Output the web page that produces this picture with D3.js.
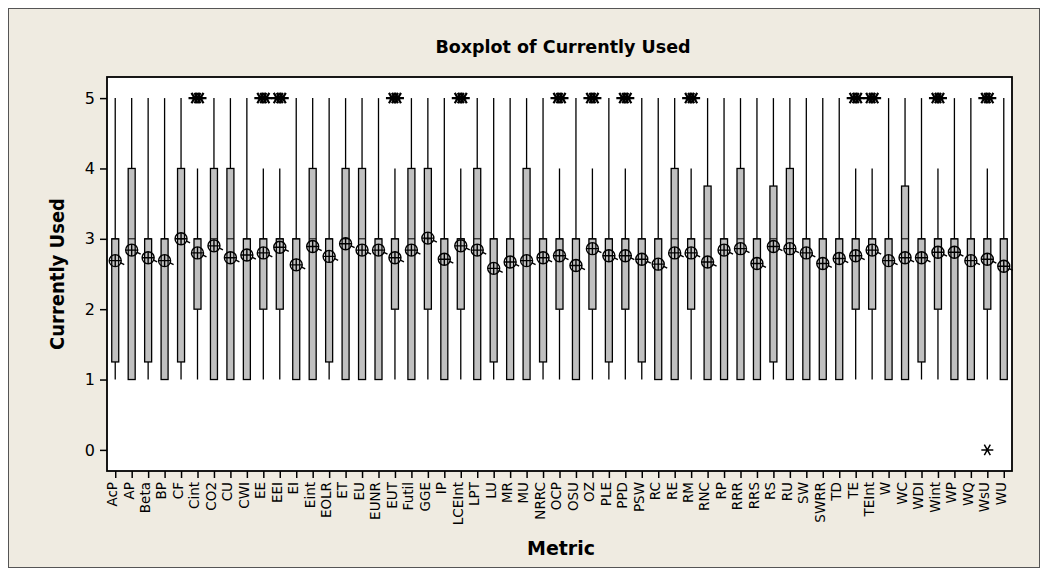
<!DOCTYPE html>
<html>
<head>
<meta charset="utf-8">
<script src="https://cdn.jsdelivr.net/npm/d3@7"></script>
<style>
  body { margin: 0; background: #ffffff; }
</style>
</head>
<body>
<div id="visContainer"></div>
<script>
'use strict';

// categories on the x axis
var categories = ['AcP', 'AP', 'Beta', 'BP', 'CF', 'Cint', 'CO2', 'CU', 'CWI', 'EE', 'EEI', 'EI', 'Eint', 'EOLR',
	'ET', 'EU', 'EUNR', 'EUT', 'Futil', 'GGE', 'IP', 'LCEInt', 'LPT', 'LU', 'MR', 'MU', 'NRRC', 'OCP', 'OSU',
	'OZ', 'PLE', 'PPD', 'PSW', 'RC', 'RE', 'RM', 'RNC', 'RP', 'RRR', 'RRS', 'RS', 'RU', 'SW', 'SWRR', 'TD',
	'TE', 'TEInt', 'W', 'WC', 'WDI', 'Wint', 'WP', 'WQ', 'WsU', 'WU'];

// box statistics, one value per category
var q1 = [1.25, 1, 1.25, 1, 1.25, 2, 1, 1, 1, 2, 2, 1, 1, 1.25,
	1, 1, 1, 2, 1, 2, 1, 2, 1, 1.25, 1, 1, 1.25, 2, 1,
	2, 1.25, 2, 1.25, 1, 1, 2, 1, 1, 1, 1, 1.25, 1, 1, 1, 1,
	2, 2, 1, 1, 1.25, 2, 1, 1, 2, 1];
var median = [3, 3, 3, 3, 3, 3, 3, 3, 3, 3, 3, 3, 3, 3,
	3, 3, 3, 3, 3, 3, 3, 3, 3, 3, 3, 3, 3, 3, 3,
	3, 3, 3, 3, 3, 3, 3, 3, 3, 3, 3, 3, 3, 3, 3, 3,
	3, 3, 3, 3, 3, 3, 3, 3, 3, 3];
var q3 = [3, 4, 3, 3, 4, 3, 4, 4, 3, 3, 3, 3, 4, 3,
	4, 4, 3, 3, 4, 4, 3, 3, 4, 3, 3, 4, 3, 3, 3,
	3, 3, 3, 3, 3, 4, 3, 3.75, 3, 4, 3, 3.75, 4, 3, 3, 3,
	3, 3, 3, 3.75, 3, 3, 3, 3, 3, 3];
var whiskerLow = [1, 1, 1, 1, 1, 1, 1, 1, 1, 1, 1, 1, 1, 1,
	1, 1, 1, 1, 1, 1, 1, 1, 1, 1, 1, 1, 1, 1, 1,
	1, 1, 1, 1, 1, 1, 1, 1, 1, 1, 1, 1, 1, 1, 1, 1,
	1, 1, 1, 1, 1, 1, 1, 1, 1, 1];
var whiskerHigh = [5, 5, 5, 5, 5, 4, 5, 5, 5, 4, 4, 5, 5, 5,
	5, 5, 5, 4, 5, 5, 5, 4, 5, 5, 5, 5, 5, 4, 5,
	4, 5, 4, 5, 5, 5, 4, 5, 5, 5, 5, 5, 5, 5, 5, 5,
	4, 4, 5, 5, 5, 4, 5, 5, 4, 5];
var means = [2.69, 2.84, 2.73, 2.69, 3.0, 2.80, 2.90, 2.73, 2.77, 2.80, 2.88, 2.63, 2.89, 2.75,
	2.93, 2.84, 2.84, 2.73, 2.84, 3.01, 2.71, 2.90, 2.84, 2.58, 2.67, 2.69, 2.73, 2.76, 2.62,
	2.86, 2.76, 2.76, 2.71, 2.64, 2.80, 2.80, 2.67, 2.84, 2.86, 2.65, 2.89, 2.86, 2.80, 2.65, 2.72,
	2.76, 2.84, 2.69, 2.73, 2.73, 2.81, 2.81, 2.69, 2.71, 2.61];
// outliers (category name -> values)
var outlierCats = ['Cint', 'EE', 'EEI', 'EUT', 'LCEInt', 'OCP', 'OZ', 'PPD', 'RM', 'TE', 'TEInt', 'Wint', 'WsU'];
var outlierVals = [[5, 5, 5], [5, 5, 5], [5, 5, 5], [5, 5, 5], [5, 5, 5], [5, 5, 5], [5, 5, 5],
	[5, 5, 5], [5, 5, 5], [5, 5, 5], [5, 5, 5], [5, 5, 5], [5, 5, 5, 0]];

var yTicks = [0, 1, 2, 3, 4, 5];

var W = 1056, H = 580;
var svg = d3.select('#visContainer')
	.append('svg')
	.attr('width', W)
	.attr('height', H)
	.style('display', 'block');

var MARGIN = { left: 107, right: 44, top: 77, bottom: 109 };
var plotW = W - MARGIN.left - MARGIN.right;
var plotH = H - MARGIN.top - MARGIN.bottom;

// figure background and frame
svg.append('rect')
	.attr('x', 8.5).attr('y', 8.5)
	.attr('width', 1031).attr('height', 559)
	.attr('fill', '#efebe1')
	.attr('stroke', '#555')
	.attr('stroke-width', 1);

var xScale = d3.scalePoint()
	.domain(categories)
	.range([MARGIN.left, MARGIN.left + plotW])
	.padding(0.5);

var yScale = d3.scaleLinear()
	.domain([-0.3, 5.3])
	.range([MARGIN.top + plotH, MARGIN.top]);

// plot area
svg.append('rect')
	.attr('x', MARGIN.left).attr('y', MARGIN.top)
	.attr('width', plotW).attr('height', plotH)
	.attr('fill', '#ffffff')
	.attr('stroke', '#000')
	.attr('stroke-width', 1.8);

// title
svg.append('text')
	.attr('x', 563).attr('y', 53)
	.attr('text-anchor', 'middle')
	.style('font-family', '"DejaVu Sans", Verdana, sans-serif')
	.style('font-weight', 'bold')
	.style('font-size', '17.5px')
	.text('Boxplot of Currently Used');

// axes
var xAxis = d3.axisBottom(xScale).tickSize(7).tickSizeOuter(0);
var gx = svg.append('g')
	.attr('transform', 'translate(0,' + (MARGIN.top + plotH) + ')')
	.call(xAxis);
gx.select('.domain').remove();
gx.selectAll('.tick line').attr('stroke', '#000').attr('stroke-width', 1.5);
gx.selectAll('.tick text')
	.attr('transform', 'rotate(-90)')
	.attr('x', -11)
	.attr('y', 0)
	.attr('dy', '0.1em')
	.attr('text-anchor', 'end')
	.attr('fill', '#000')
	.style('font-family', '"DejaVu Sans", Verdana, sans-serif')
	.style('font-size', '13.5px');

var yAxis = d3.axisLeft(yScale).tickValues(yTicks).tickFormat(d3.format('d')).tickSize(7).tickSizeOuter(0);
var gy = svg.append('g')
	.attr('transform', 'translate(' + MARGIN.left + ',0)')
	.call(yAxis);
gy.select('.domain').remove();
gy.selectAll('.tick line').attr('stroke', '#000').attr('stroke-width', 1.5);
gy.selectAll('.tick text')
	.attr('x', -12)
	.attr('fill', '#000')
	.style('font-family', '"DejaVu Sans", Verdana, sans-serif')
	.style('font-size', '16px');

// axis labels
svg.append('text')
	.attr('x', 561).attr('y', 555)
	.attr('text-anchor', 'middle')
	.style('font-family', '"DejaVu Sans", Verdana, sans-serif')
	.style('font-weight', 'bold')
	.style('font-size', '19px')
	.text('Metric');

svg.append('text')
	.attr('transform', 'translate(64,' + (MARGIN.top + plotH / 2) + ') rotate(-90)')
	.attr('text-anchor', 'middle')
	.style('font-family', '"Liberation Sans Narrow", "DejaVu Sans Condensed", sans-serif')
	.style('font-weight', 'bold')
	.style('font-size', '20px')
	.text('Currently Used');

// boxes
var boxData = categories.map(function (c, i) {
	return { cat: c, q1: q1[i], med: median[i], q3: q3[i], lo: whiskerLow[i], hi: whiskerHigh[i], mean: means[i] };
});

var boxW = 7;
var boxes = svg.append('g').selectAll('g')
	.data(boxData)
	.enter().append('g')
	.attr('transform', function (d) { return 'translate(' + xScale(d.cat) + ',0)'; });

// whiskers
boxes.append('line')
	.attr('x1', 0).attr('x2', 0)
	.attr('y1', function (d) { return yScale(d.hi); })
	.attr('y2', function (d) { return yScale(d.q3); })
	.attr('stroke', '#000').attr('stroke-width', 1.3);
boxes.append('line')
	.attr('x1', 0).attr('x2', 0)
	.attr('y1', function (d) { return yScale(d.q1); })
	.attr('y2', function (d) { return yScale(d.lo); })
	.attr('stroke', '#000').attr('stroke-width', 1.3);

boxes.append('rect')
	.attr('x', -boxW / 2)
	.attr('width', boxW)
	.attr('y', function (d) { return yScale(d.q3); })
	.attr('height', function (d) { return yScale(d.q1) - yScale(d.q3); })
	.attr('fill', '#c0c0c0')
	.attr('stroke', '#000')
	.attr('stroke-width', 1.3);

boxes.append('line')
	.attr('x1', -boxW / 2).attr('x2', boxW / 2)
	.attr('y1', function (d) { return yScale(d.med); })
	.attr('y2', function (d) { return yScale(d.med); })
	.attr('stroke', '#000').attr('stroke-width', 1);

// mean symbols: circle with cross
var r = 6;
var meanG = boxes.append('g')
	.attr('transform', function (d) { return 'translate(0,' + yScale(d.mean) + ')'; })
	.attr('fill', 'none')
	.attr('stroke', '#000')
	.attr('stroke-width', 1.4);
meanG.append('circle').attr('r', r);
meanG.append('path').attr('d', 'M' + (-r) + ',0H' + r + 'M0,' + (-r) + 'V' + r + 'M' + (r - 1) + ',2L' + (r + 3) + ',4');

// outliers as asterisks
function star(s) {
	var a = s * Math.cos(Math.PI / 3), b = s * Math.sin(Math.PI / 3);
	return 'M' + (-s) + ',0H' + s + 'M' + (-a) + ',' + (-b) + 'L' + a + ',' + b + 'M' + a + ',' + (-b) + 'L' + (-a) + ',' + b;
}
var outG = svg.append('g').attr('fill', 'none').attr('stroke', '#000');
outlierCats.forEach(function (c, i) {
	var vals = outlierVals[i];
	var counts = {};
	vals.forEach(function (v) {
		var k = counts[v] || 0;
		counts[v] = k + 1;
		var n = vals.filter(function (u) { return u === v; }).length;
		var off = n > 1 ? (k - (n - 1) / 2) * 3 : 0;
		outG.append('path')
			.attr('transform', 'translate(' + (xScale(c) + off) + ',' + yScale(v) + ')')
			.attr('stroke-width', n > 1 ? 2.2 : 1.5)
			.attr('d', star(6));
	});
});
</script>
</body>
</html>
